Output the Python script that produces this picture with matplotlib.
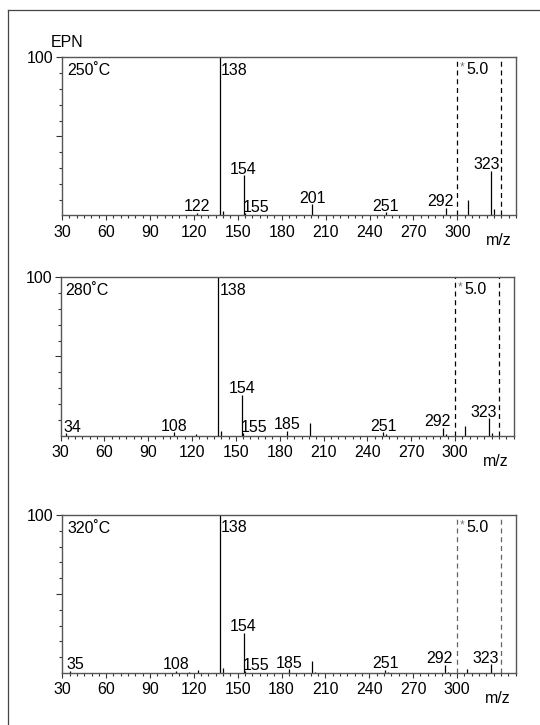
import matplotlib
matplotlib.use("Agg")
import matplotlib.pyplot as plt
from matplotlib.lines import Line2D

plt.rcParams['font.family'] = ['Liberation Sans', 'DejaVu Sans']
plt.rcParams['font.size'] = 11.5

# peak lists (m/z, relative intensity %) - region beyond 300 shown x5
mz_250 = [122, 138, 140, 154, 155, 201, 251, 253, 292, 307, 323, 325]
int_250 = [1.7, 100, 2.7, 25.5, 1.3, 7.1, 2.1, 0.6, 5.0, 9.7, 28.2, 3.8]
lab_250 = [122, 138, 154, 155, 201, 251, 292, 323]

mz_280 = [34, 108, 123, 138, 140, 154, 155, 185, 201, 251, 253, 292, 294, 307, 323, 325]
int_280 = [1.5, 2.1, 1.1, 100, 3.0, 25.8, 1.5, 3.0, 7.6, 1.9, 0.8, 4.9, 0.8, 6.3, 11.0, 1.5]
lab_280 = [34, 108, 138, 154, 155, 185, 251, 292, 323]

mz_320 = [35, 108, 117, 123, 138, 140, 154, 155, 185, 201, 203, 251, 253, 292, 294, 307, 323]
int_320 = [1.3, 1.5, 0.6, 2.1, 100, 3.0, 25.6, 1.1, 2.5, 7.6, 0.6, 1.9, 0.8, 5.1, 0.6, 2.7, 5.5]
lab_320 = [35, 108, 138, 154, 155, 185, 251, 292, 323]

temps = ["250˚C", "280˚C", "320˚C"]
zoom_range = (300, 330)
zoom_text = "5.0"

W, H = 540, 725
PT = 0.72  # px -> pt at 100 dpi

# label alignment tweaks (ha, x offset in px)
label_style = {138: ('left', 1), 155: ('left', -2.5), 34: ('left', -3),
               35: ('left', -3), 292: ('center', -5.5), 323: ('center', -4.5)}


def px_rect(l, t, r, b):
    return [l / W, 1 - b / H, (r - l) / W, (b - t) / H]


fig = plt.figure(figsize=(W / 100, H / 100), dpi=100)

# page frame
fig.add_artist(Line2D([8 / W, 1], [1 - 10 / H] * 2, transform=fig.transFigure, color='#444444', lw=0.9))
fig.add_artist(Line2D([8 / W] * 2, [1 - 10 / H, 0], transform=fig.transFigure, color='#444444', lw=0.9))

fig.text(51 / W, 1 - 47 / H, "EPN", va='baseline', ha='left')

boxes = [(62, 57.3, 516, 215.5), (60.5, 277.3, 513.5, 435.5), (62.3, 515, 515.5, 673)]
panels = [(mz_250, int_250, lab_250, 'black'),
          (mz_280, int_280, lab_280, 'black'),
          (mz_320, int_320, lab_320, '#666666')]

for box, temp, (mz, inten, labs, dcol) in zip(boxes, temps, panels):
    ax = fig.add_axes(px_rect(*box))
    ax.set_xlim(30, 340)
    ax.set_ylim(0, 100)
    for s in ax.spines.values():
        s.set_color('#555555')
        s.set_linewidth(1.0)

    ax.set_xticks(range(30, 301, 30))
    ax.set_xticks(range(30, 341, 5), minor=True)
    ax.set_yticks([50, 100])
    ax.set_yticklabels(['', '100'])
    ax.set_yticks([10, 20, 30, 40, 60, 70, 80, 90], minor=True)
    ax.tick_params(axis='x', which='major', length=4.5 * PT, width=0.8, pad=3.3, color='#333333')
    ax.tick_params(axis='x', which='minor', length=2.7 * PT, width=0.8, color='#333333')
    ax.tick_params(axis='y', which='major', length=6.5 * PT, width=0.8, pad=2.0 * PT, color='#333333')
    ax.tick_params(axis='y', which='minor', length=3 * PT, width=0.8, color='#333333')

    ax.vlines(mz, 0, inten, color='black', lw=0.9)

    for z in zoom_range:
        ax.axvline(z, color=dcol, lw=0.9, ls=(0, (4, 3)))
    ax.annotate('*', xy=(zoom_range[0], 100), xytext=(4.6 * PT, -10 * PT), textcoords='offset points',
                ha='center', va='center', fontsize=8.5, color='#777777')
    ax.annotate(zoom_text, xy=(zoom_range[0], 100), xytext=(9.4 * PT, -5 * PT), textcoords='offset points',
                ha='left', va='top')

    ax.annotate(temp, xy=(0, 1), xycoords='axes fraction', xytext=(5 * PT, -6 * PT),
                textcoords='offset points', ha='left', va='top')

    for m in labs:
        y = inten[mz.index(m)]
        ha, dx = label_style.get(m, ('center', 0))
        if y >= 100:
            ax.annotate(str(m), xy=(m, 100), xytext=(dx * PT, -5.5 * PT), textcoords='offset points',
                        ha=ha, va='top')
        else:
            ax.annotate(str(m), xy=(m, y), xytext=(dx * PT, 1.5 * PT), textcoords='offset points',
                        ha=ha, va='baseline')

    ax.annotate('m/z', xy=(1, 0), xycoords='axes fraction', xytext=(-4.5 * PT, -30 * PT),
                textcoords='offset points', ha='right', va='baseline')

fig.savefig('out.png', dpi=100)
